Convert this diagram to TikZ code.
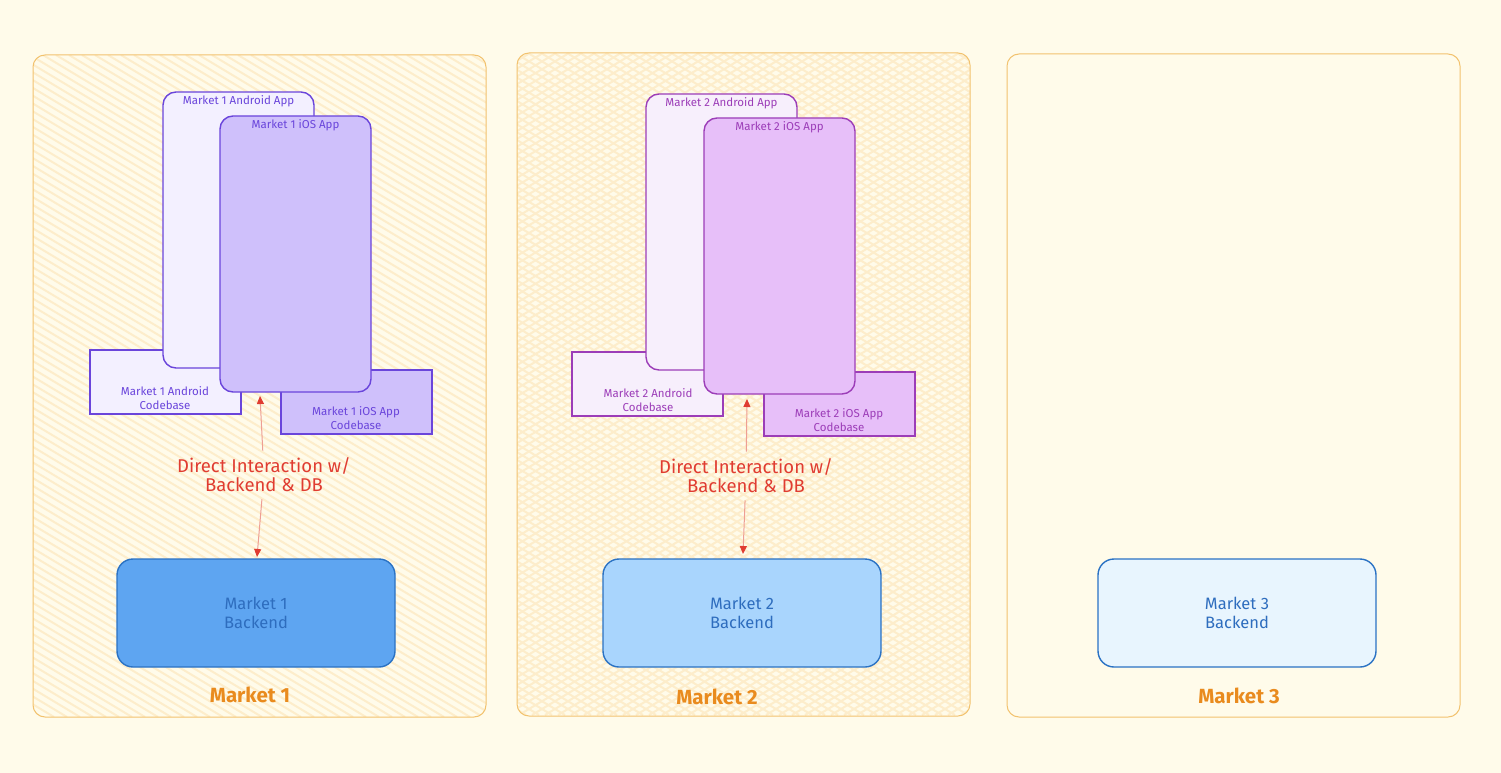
\documentclass[tikz,border=0pt]{standalone}
\usepackage{fontspec}
\setmainfont{Fira Sans}
\usetikzlibrary{arrows.meta,positioning}
\definecolor{paper}{HTML}{FFFBEA}
\definecolor{frameline}{HTML}{F2C26E}
\definecolor{hatchcol}{HTML}{FDEDCB}
\definecolor{violetline}{HTML}{6A45DB}
\definecolor{violetlight}{HTML}{F3F0FF}
\definecolor{violetfill}{HTML}{CFC0FB}
\definecolor{grapeline}{HTML}{9C3DB8}
\definecolor{grapelight}{HTML}{F7EFFC}
\definecolor{grapefill}{HTML}{E7BFF9}
\definecolor{beline}{HTML}{2A72C4}
\definecolor{betext}{HTML}{2E6DBE}
\definecolor{befillA}{HTML}{5EA5F1}
\definecolor{befillB}{HTML}{A9D5FD}
\definecolor{befillC}{HTML}{E8F5FE}
\definecolor{redtip}{HTML}{E03C31}
\definecolor{redline}{HTML}{EE9E94}
\definecolor{titlecol}{HTML}{E98B1E}

\begin{document}
\begin{tikzpicture}[x=1pt, y=-1pt,
  frame/.style={draw=frameline, line width=1pt, rounded corners=12pt},
  hatch/.style={draw=hatchcol, line width=2pt},
  app/.style={draw, line width=1.4pt, rounded corners=13pt, anchor=north west,
              inner sep=0pt, outer sep=0pt, minimum width=151pt, minimum height=276pt},
  codebase/.style={draw, line width=1.2pt, anchor=north west, inner sep=0pt,
              outer sep=0pt, minimum width=151pt, minimum height=64pt},
  small/.style={font=\fontsize{11.5}{13.5}\selectfont, align=center, inner sep=0pt},
  backend/.style={draw=beline, line width=1.4pt, rounded corners=16pt, minimum width=278pt,
              minimum height=108pt, text=betext, align=center, font=\fontsize{16.5}{19}\selectfont},
  title/.style={text=titlecol, font=\bfseries\fontsize{20.5}{23}\selectfont},
  note/.style={text=redtip, align=center, font=\fontsize{18.5}{19}\selectfont, inner sep=7pt},
  link/.style={draw=redline, line width=1pt, -{Triangle[length=8pt,width=7pt,fill=redtip,color=redtip]}}]
\useasboundingbox (0,0) rectangle (1501,773);
\fill[paper] (0,0) rectangle (1501,773);

% market frames
\begin{scope}
  \clip[rounded corners=12pt] (33,55) rectangle (486,717);
  \foreach \x in {-1075,-1062,...,490} \draw[hatch] (\x,55) -- ++(1103,662);
\end{scope}
\begin{scope}
  \clip[rounded corners=12pt] (517,53) rectangle (970,716);
  \foreach \x in {-590,-577,...,970} \draw[hatch] (\x,53) -- ++(1103,662);
  \foreach \x in {517,530,...,2075} \draw[hatch] (\x,53) -- ++(-1103,662);
\end{scope}
\draw[frame] (33,55) rectangle (486,717);
\draw[frame] (517,53) rectangle (970,716);
\draw[frame] (1007,54) rectangle (1460,717);

% market 1
\node[codebase, draw=violetline, fill=violetlight] (acb1) at (90,350) {};
\node[small, text=violetline] (acb1t) at (165,398) {Market 1 Android\\Codebase};
\node[app, draw=violetline, fill=violetlight] (and1) at (163,92) {};
\node[small, text=violetline, below=3pt of and1.north] (and1t) {Market 1 Android App};
\node[codebase, draw=violetline, fill=violetfill] (icb1) at (281,370) {};
\node[small, text=violetline] (icb1t) at (356,418) {Market 1 iOS App\\Codebase};
\node[app, draw=violetline, fill=violetfill] (ios1) at (220,116) {};
\node[small, text=violetline, below=3pt of ios1.north] (ios1t) {Market 1 iOS App};
\node[backend, fill=befillA] (be1) at (256,613) {Market 1\\Backend};
\node[note] (lnk1) at (264,475) {Direct Interaction w/\\Backend \& DB};
\coordinate (up1) at (260,396);
\coordinate (dn1) at (257,557);
\draw[link] (lnk1) -- (up1);
\draw[link] (lnk1) -- (dn1);
\node[title] (mk1) at (250,695) {Market 1};

% market 2
\node[codebase, draw=grapeline, fill=grapelight] (acb2) at (572,352) {};
\node[small, text=grapeline] (acb2t) at (648,400) {Market 2 Android\\Codebase};
\node[app, draw=grapeline, fill=grapelight] (and2) at (646,94) {};
\node[small, text=grapeline, below=3pt of and2.north] (and2t) {Market 2 Android App};
\node[codebase, draw=grapeline, fill=grapefill] (icb2) at (764,372) {};
\node[small, text=grapeline] (icb2t) at (839,420) {Market 2 iOS App\\Codebase};
\node[app, draw=grapeline, fill=grapefill] (ios2) at (704,118) {};
\node[small, text=grapeline, below=3pt of ios2.north] (ios2t) {Market 2 iOS App};
\node[backend, fill=befillB] (be2) at (742,613) {Market 2\\Backend};
\node[note] (lnk2) at (746,476) {Direct Interaction w/\\Backend \& DB};
\coordinate (up2) at (747,399);
\coordinate (dn2) at (743,554);
\draw[link] (lnk2) -- (up2);
\draw[link] (lnk2) -- (dn2);
\node[title] (mk2) at (717,697) {Market 2};

% market 3
\node[backend, fill=befillC] (be3) at (1237,613) {Market 3\\Backend};
\node[title] (mk3) at (1239,696) {Market 3};
\end{tikzpicture}
\end{document}
